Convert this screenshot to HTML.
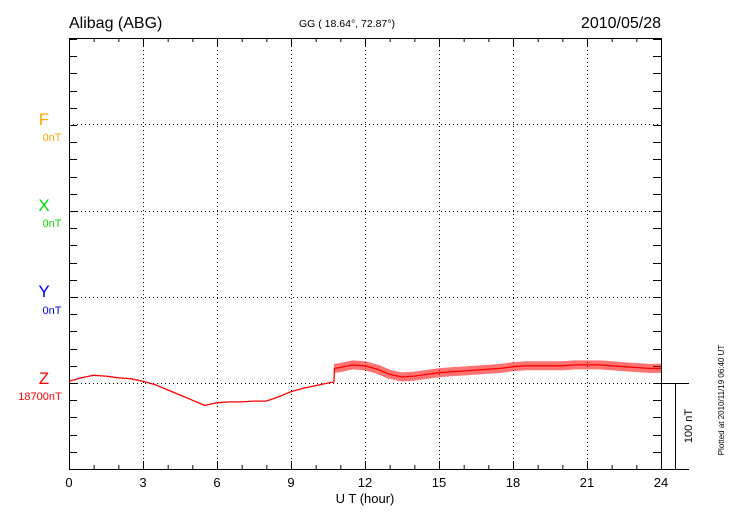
<!DOCTYPE html>
<html><head><meta charset="utf-8"><style>
body{margin:0;background:#fff}
svg{display:block;font-family:"Liberation Sans",sans-serif}
</style></head><body>
<svg id="chart" width="730" height="520">
<rect width="730" height="520" fill="#fff"/>
<text x="69" y="28" font-size="16">Alibag (ABG)</text>
<text x="347" y="27" font-size="10.5" text-anchor="middle">GG ( 18.64°,  72.87°)</text>
<text x="661" y="28" font-size="16" text-anchor="end">2010/05/28</text>
<g id="grid"></g>
<g id="axes"></g>
<g id="labels">
<text x="44" y="125" font-size="17" fill="#ffa500" text-anchor="middle">F</text>
<text x="52" y="141" font-size="11" fill="#ffa500" text-anchor="middle">0nT</text>
<text x="44" y="211" font-size="17" fill="#00dd00" text-anchor="middle">X</text>
<text x="52" y="227" font-size="11" fill="#00dd00" text-anchor="middle">0nT</text>
<text x="44" y="297" font-size="17" fill="#0000ff" text-anchor="middle">Y</text>
<text x="52" y="314" font-size="11" fill="#0000ff" text-anchor="middle">0nT</text>
<text x="44" y="384" font-size="17" fill="#ff0000" text-anchor="middle">Z</text>
<text x="40" y="400" font-size="11" fill="#ff0000" text-anchor="middle">18700nT</text>
</g>
<text x="365" y="503" font-size="13" text-anchor="middle">U T (hour)</text>
<g>
<line x1="675.5" y1="383" x2="675.5" y2="469" stroke="#000"/>
<line x1="661" y1="383.5" x2="689" y2="383.5" stroke="#000"/>
<line x1="661" y1="469.5" x2="689" y2="469.5" stroke="#000"/>
<text transform="translate(692,426) rotate(-90)" font-size="11" text-anchor="middle">100 nT</text>
</g>
<text transform="translate(724,400) rotate(-90)" font-size="8" text-anchor="middle">Plotted at 2010/11/19 06:40 UT</text>
<g id="series"></g>
</svg>
<script>
const hours=[0,0.5,1,1.5,2,2.5,3,3.5,4,4.5,5,5.5,6,6.5,7,7.5,8,8.5,9,9.5,10,10.5,10.74,10.76,11,11.5,12,12.5,13,13.5,14,14.5,15,15.5,16,16.5,17,17.5,18,18.5,19,19.5,20,20.5,21,21.5,22,22.5,23,23.5,24];
const zValues=[2,6,9,8,6,5,2,-2,-8,-14,-20,-26,-23,-22,-22,-21,-21,-16,-10,-6,-3,0,1,17,18,21,20,16,10,7,8,10,12,13,14,15,16,17,19,20,20,20,20,21,21,21,20,19,18,17,17];
const noiseStart=10.75;
const xTicks=[0,3,6,9,12,15,18,21,24];
const X0=69,X1=661,Y0=38,Y1=469,ZBASE=383,PXNT=0.86;
const xs=t=>X0+(X1-X0)*t/24;
const ys=v=>ZBASE-v*PXNT;
const ns="http://www.w3.org/2000/svg";
function mk(tag,attrs,parent){const e=document.createElementNS(ns,tag);for(const k in attrs)e.setAttribute(k,attrs[k]);parent.appendChild(e);return e;}
const grid=document.getElementById('grid'),axes=document.getElementById('axes'),series=document.getElementById('series');
[124,211,297,383].forEach(y=>{const l=mk('line',{x1:X0,x2:X1,y1:y+0.5,y2:y+0.5,stroke:'#000','stroke-dasharray':'1,3'},grid);

});
xTicks.forEach(t=>{if(t>0&&t<24){const l=mk('line',{x1:xs(t)+0.5,x2:xs(t)+0.5,y1:Y0,y2:Y1,stroke:'#000','stroke-dasharray':'1,3'},grid);

}
const tx=mk('text',{x:xs(t),y:487,'font-size':13,'text-anchor':'middle'},axes);tx.textContent=t;

});
mk('rect',{x:X0+0.5,y:Y0+0.5,width:X1-X0,height:Y1-Y0,fill:'none',stroke:'#000'},axes);
for(let h=0;h<=24;h++){const len=(h%3==0)?8:4;
mk('line',{x1:xs(h)+0.5,x2:xs(h)+0.5,y1:Y1,y2:Y1-len,stroke:'#000'},axes);
mk('line',{x1:xs(h)+0.5,x2:xs(h)+0.5,y1:Y0,y2:Y0+len,stroke:'#000'},axes);}
for(let y=Y1;y>Y0;y-=17.2){mk('line',{x1:X0,x2:X0+8,y1:Math.round(y)+0.5,y2:Math.round(y)+0.5,stroke:'#000'},axes);
mk('line',{x1:X1-8,x2:X1,y1:Math.round(y)+0.5,y2:Math.round(y)+0.5,stroke:'#000'},axes);}
const all=hours.map((t,i)=>xs(t).toFixed(1)+','+ys(zValues[i]).toFixed(1)).join(' ');
const noisy=hours.map((t,i)=>[t,zValues[i]]).filter(p=>p[0]>=noiseStart).map(p=>xs(p[0]).toFixed(1)+','+ys(p[1]).toFixed(1)).join(' ');
const band=mk('polyline',{points:noisy,fill:'none',stroke:'#ff0000','stroke-width':9,'stroke-opacity':0.55,'stroke-linejoin':'round'},series);


const line=mk('polyline',{points:all,fill:'none',stroke:'#ff0000','stroke-width':1.3},series);


</script>
</body></html>
